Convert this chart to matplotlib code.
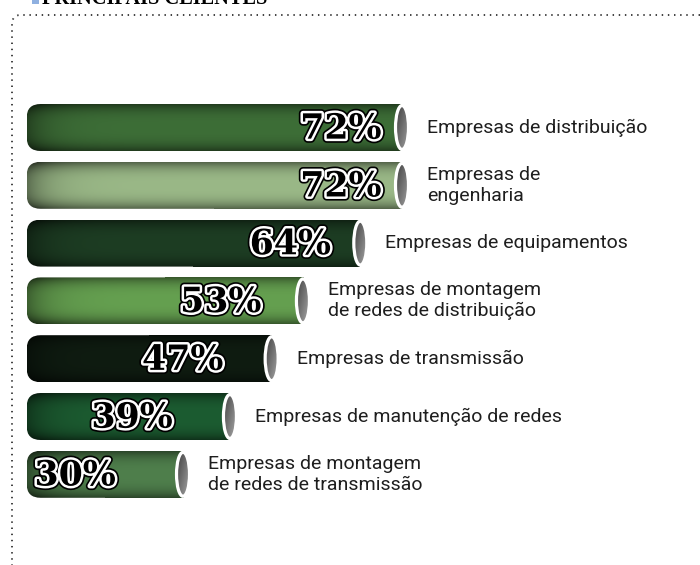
import numpy as np
import matplotlib
matplotlib.use("Agg")
import matplotlib.pyplot as plt
from matplotlib.patches import FancyBboxPatch, Rectangle, Ellipse
from matplotlib.lines import Line2D
import matplotlib.patheffects as pe
from matplotlib.colors import to_rgb

# data
labels = [
    "Empresas de distribuição",
    "Empresas de\nengenharia",
    "Empresas de equipamentos",
    "Empresas de montagem\nde redes de distribuição",
    "Empresas de transmissão",
    "Empresas de manutenção de redes",
    "Empresas de montagem\nde redes de transmissão",
]
values = [72, 72, 64, 53, 47, 39, 30]
bar_colors = ["#3d6e37", "#9ab887", "#1d3d23", "#65a050", "#0f1c11", "#1c5c31", "#4f7f4c"]
title = "PRINCIPAIS CLIENTES"

W, H = 700, 565
fig = plt.figure(figsize=(W / 100, H / 100), dpi=100)
ax = fig.add_axes([0, 0, 1, 1])

# pixel -> data unit helpers (x in %, y in bar index)
PX = 1 / 5.214
PY = 1 / 57.8
x0_px, y0_px = 26.6, 127.5

bar_h = 47 * PY
cap_w = 13 * PX
cap_h = 44 * PY

for i, (v, col, lab) in enumerate(zip(values, bar_colors, labels)):
    top = i - bar_h / 2
    # gradient body (vignette)
    xs = np.linspace(0, v, 300)
    ys = np.linspace(-1, 1, 60)
    X, Y = np.meshgrid(xs / PX, ys)
    fac = 1 - 0.45 * np.abs(Y) ** 3 - 0.4 * np.exp(-X / 22)
    fac = np.clip(fac, 0.3, 1.05)
    img = np.clip(np.array(to_rgb(col))[None, None, :] * fac[..., None], 0, 1)

    body = FancyBboxPatch((0, top), v, bar_h,
                          boxstyle=f"round,pad=0,rounding_size={14 * PX}",
                          mutation_aspect=PY / PX, transform=ax.transData,
                          facecolor="none", edgecolor="none")
    right = Rectangle((v / 2, top), v / 2, bar_h, transform=ax.transData,
                      facecolor="none", edgecolor="none")
    for clip in (body, right):
        im = ax.imshow(img, extent=[0, v, i + bar_h / 2, top], aspect="auto",
                       interpolation="bilinear", zorder=2)
        im.set_clip_path(clip)

    # end cap
    cx = np.linspace(-1, 1, 40)
    CX, CY = np.meshgrid(cx, cx)
    g = 0.25 + 0.22 * (CX + 1) / 2 + 0.18 * (CY + 1) / 2
    cap_img = np.dstack([g, g, g])
    cap = Ellipse((v, i), cap_w, cap_h, facecolor="none", edgecolor="white",
                  linewidth=2.3, zorder=4)
    ax.add_patch(cap)
    cim = ax.imshow(cap_img, extent=[v - cap_w / 2, v + cap_w / 2, i + cap_h / 2, i - cap_h / 2],
                    aspect="auto", interpolation="bilinear", zorder=3)
    cim.set_clip_path(cap)

    # percent label
    ax.text(1.214 * v - 27.1, i + 0.02, f"{v}%", ha="center", va="center",
            fontsize=25, family="DejaVu Serif", fontweight="bold", color="black",
            zorder=5,
            path_effects=[pe.Stroke(linewidth=6, foreground="black"),
                          pe.Stroke(linewidth=3.6, foreground="white"),
                          pe.Normal()])

    # category label
    ax.text(v + 25 * PX, i, lab, ha="left", va="center", fontsize=14,
            family="Roboto", color="#1e1e1e", linespacing=1.2, zorder=5)

ax.set_xlim(-x0_px * PX, (W - x0_px) * PX)
ax.set_ylim((H - y0_px) * PY, -y0_px * PY)
ax.axis("off")

# title (clipped at top edge, as in the original) and marker square
fig.text(42 / W, 1 - 4 / H, title, ha="left", va="baseline", fontsize=14.7,
         family="Liberation Serif", fontweight="bold", color="black")
fig.patches.append(Rectangle((32 / W, 1 - 4 / H), 7 / W, 4 / H, transform=fig.transFigure,
                             facecolor="#8fb0e0", edgecolor="none", figure=fig))

# dotted frame
ang = np.linspace(np.pi / 2, np.pi, 8)
r = 8
arc_x = 20 + r * np.cos(ang)
arc_y = 23 - r * np.sin(ang)
fx = np.concatenate([[W], arc_x, [12]])
fy = np.concatenate([[15], arc_y, [H]])
fig.lines.append(Line2D(fx / W, 1 - fy / H, transform=fig.transFigure, color="#333333",
                        linewidth=1.3, linestyle=(0, (0.8, 2.6)), figure=fig))

fig.savefig("out.png", dpi=100)
